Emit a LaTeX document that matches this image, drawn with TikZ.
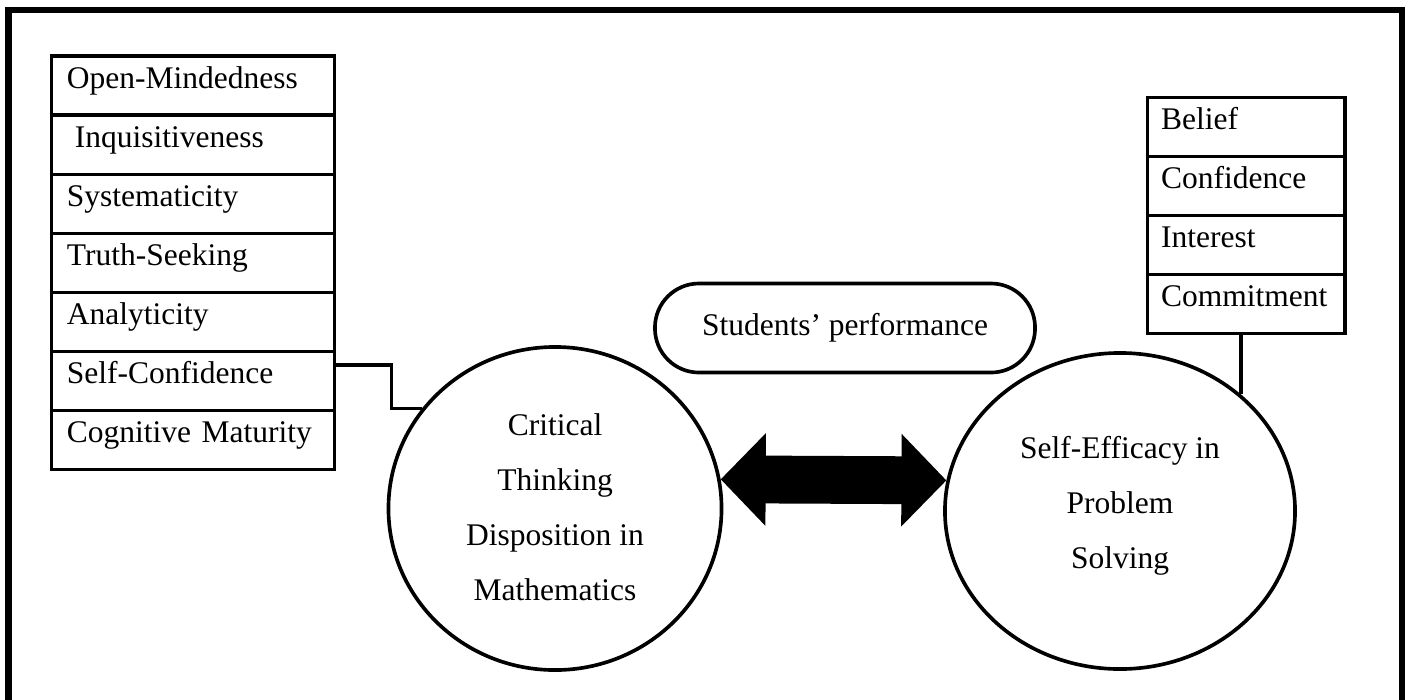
\documentclass[tikz,border=0pt]{standalone}
\usepackage{fontspec}
\setmainfont{Liberation Serif}
\usepackage{tikz}
\usetikzlibrary{positioning}
\usetikzlibrary{shapes.geometric}
\usetikzlibrary{arrows.meta}

\begin{document}
\begin{tikzpicture}[x=0.025cm,y=-0.025cm,
        box/.style={draw,line width=2.6pt,outer sep=0pt,inner ysep=0pt,align=left,
            font=\fontsize{22.4}{26}\selectfont,text height=19.6pt,text depth=16pt,
            minimum height=1.475cm},
        leftitem/.style={box,text width=6.3cm,inner xsep=0.3875cm},
        rightitem/.style={box,text width=4.26cm,inner xsep=0.3375cm},
        bubble/.style={draw,ellipse,line width=2.6pt,align=center,
            font=\fontsize{22.4}{39.1}\selectfont},
        link/.style={line width=2.4pt},
        biarrow/.style={line width=34pt,>={Triangle[length=32pt,width=64pt]},<->}]
        \useasboundingbox (0,0) rectangle (1412,699);
        \clip (0,0) rectangle (1412,699);
        \draw[line width=4.3pt] (8.5,10) rectangle (1402,730);
        \node[leftitem] (open) at (193,85.8) {Open-Mindedness};
        \node[leftitem,below=0pt of open] (inq) {\hspace*{0.25em}Inquisitiveness};
        \node[leftitem,below=0pt of inq] (sys) {Systematicity};
        \node[leftitem,below=0pt of sys] (truth) {Truth-Seeking};
        \node[leftitem,below=0pt of truth] (anal) {Analyticity};
        \node[leftitem,below=0pt of anal] (selfconf) {Self-Confidence};
        \node[leftitem,below=0pt of selfconf] (cogn) {Cognitive Maturity};
        \node[rightitem] (belief) at (1246.25,127) {Belief};
        \node[rightitem,below=0pt of belief] (conf) {Confidence};
        \node[rightitem,below=0pt of conf] (inter) {Interest};
        \node[rightitem,below=0pt of inter] (commit) {Commitment};
        \node[bubble,minimum width=8.325cm,minimum height=8.075cm,text depth=2.6pt] (crit) at (555,508.5) {Critical\\Thinking\\Disposition in\\Mathematics};
        \node[bubble,minimum width=8.75cm,minimum height=7.9cm,text depth=12.5pt] (self) at (1120,511) {Self-Efficacy in\\Problem\\Solving};
        \node[draw,line width=2.6pt,rounded corners=1.1cm,minimum width=9.5cm,minimum height=2.225cm,
            font=\fontsize{22.4}{26}\selectfont] (perf) at (845,328) {Students’ performance};
        \draw[link] ([yshift=0.4cm]selfconf.east) -- ++(57,0) |- (crit.143);
        \draw[link] (self.44) -- (self.44 |- commit.south);
        \draw[biarrow] (crit.10) -- (self.170);
    \end{tikzpicture}
\end{document}
